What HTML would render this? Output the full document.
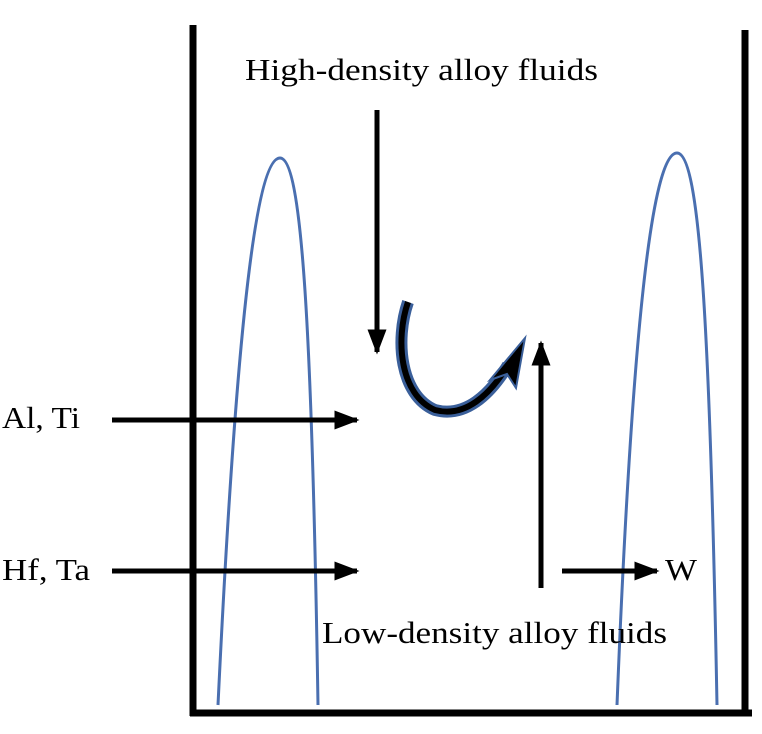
<!DOCTYPE html>
<html><head><style>body{margin:0;background:#fff}svg{display:block}text{font-family:"Liberation Serif",serif;font-size:31px;fill:#000}</style></head>
<body>
<svg width="762" height="734" viewBox="0 0 762 734">
<defs>
<marker id="a" viewBox="0 0 10 10" refX="9" refY="5" markerWidth="5" markerHeight="3.8" orient="auto" markerUnits="strokeWidth" preserveAspectRatio="none"><path d="M0,0 L10,5 L0,10 z" fill="#000"/></marker>
</defs>
<g stroke="#000" stroke-width="7" fill="none">
<line x1="193" y1="25" x2="193" y2="716"/>
<line x1="745" y1="30" x2="745" y2="716"/>
<line x1="190" y1="713" x2="752" y2="713"/>
</g>
<g stroke="#4a6fb0" stroke-width="3" fill="none">
<path d="M218 705 C236 330 256 158 280 158 C302 158 312 330 318 705"/>
<path d="M617 705 C632 330 652 153 677 153 C700 153 710 330 717 705"/>
</g>
<g stroke="#000" stroke-width="5" fill="none" marker-end="url(#a)">
<line x1="377" y1="110" x2="377" y2="352"/>
<line x1="541" y1="588" x2="541" y2="343"/>
<line x1="112" y1="420" x2="357" y2="420"/>
<line x1="112" y1="571" x2="357" y2="571"/>
<line x1="562" y1="571" x2="657" y2="571"/>
</g>
<path d="M408 302 C395 340 400 395 435 410 C465 418 490 395 508 365" stroke="#3a5f9a" stroke-width="12" fill="none"/>
<path d="M408 302 C395 340 400 395 435 410 C465 418 490 395 508 365" stroke="#000" stroke-width="6" fill="none"/>
<path d="M525 338 L516 388 L507 374 L490 380 Z" fill="#000" stroke="#3a5f9a" stroke-width="2"/>
<text x="245" y="80" textLength="353" lengthAdjust="spacingAndGlyphs">High-density alloy fluids</text>
<text x="2" y="428" textLength="78" lengthAdjust="spacingAndGlyphs">Al, Ti</text>
<text x="2" y="580" textLength="88" lengthAdjust="spacingAndGlyphs">Hf, Ta</text>
<text x="665" y="580" textLength="32" lengthAdjust="spacingAndGlyphs">W</text>
<text x="322" y="643" textLength="345" lengthAdjust="spacingAndGlyphs">Low-density alloy fluids</text>
</svg>
</body></html>
